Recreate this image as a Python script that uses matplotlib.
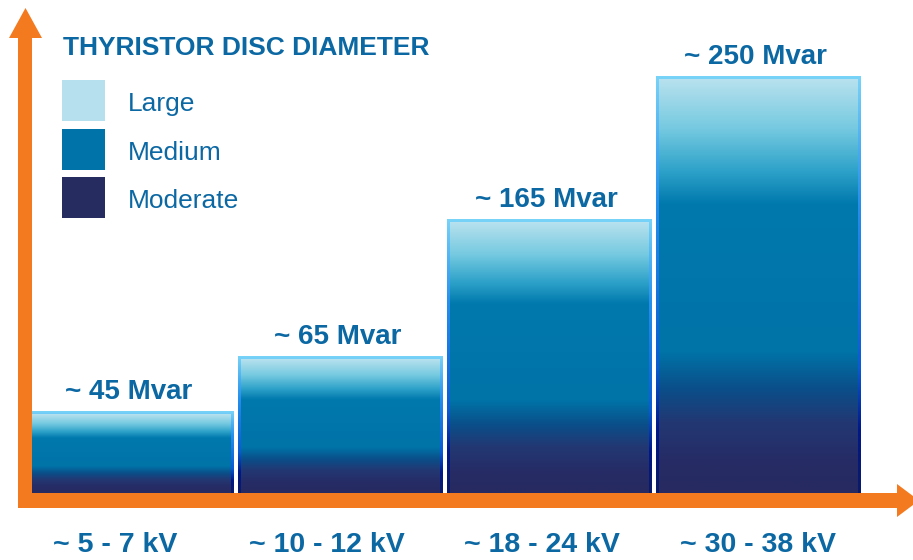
import numpy as np
import matplotlib
matplotlib.use("Agg")
import matplotlib.pyplot as plt
import matplotlib.patches as mpatches
from matplotlib.colors import LinearSegmentedColormap

# data
voltages = ["~ 5 - 7 kV", "~ 10 - 12 kV", "~ 18 - 24 kV", "~ 30 - 38 kV"]
mvar = [45, 65, 165, 250]
bar_heights = [49, 82, 164, 250]   # drawn heights (same scale as 250 Mvar)
legend_names = ["Large", "Medium", "Moderate"]
legend_colors = ["#b7e0ee", "#0074a8", "#262b60"]

txt_blue = "#0b68a3"
orange = "#f47a20"
label_shift = [-16, -13, -7, 0]   # px, x labels sit a bit left of bar centres

fill_cmap = LinearSegmentedColormap.from_list("fill", [
    (0.00, "#b7e1ee"), (0.12, "#74c9e0"), (0.22, "#2ea2c9"), (0.30, "#0079ad"),
    (0.66, "#0073a7"), (0.75, "#0b4e89"), (0.83, "#223873"), (0.92, "#262c66"),
    (1.00, "#262a60")])
edge_cmap = LinearSegmentedColormap.from_list("edge", [
    (0.00, "#78d3f8"), (0.30, "#2590ee"), (0.70, "#0a5ad6"), (0.85, "#00188a"),
    (1.00, "#0b1a68")])

fig = plt.figure(figsize=(9.13, 5.6), dpi=100)

# data axes: bar centre spacing ~208.8 px, 250 units ~ 417 px
ax = fig.add_axes([0, 0, 1, 1])
ax.set_axis_off()
xpx, ypx = 208.8, 1.668
xlim = (-131.5 / xpx, (913 - 131.5) / xpx)
ylim = (-67 / ypx, (560 - 67) / ypx)

width = 0.98
dx, dy = 3 / xpx, 3 / ypx
grad = np.linspace(0, 1, 256).reshape(-1, 1)
bars = ax.bar(range(len(bar_heights)), bar_heights, width=width, color="none", edgecolor="none")
for i, (b, h) in enumerate(zip(bars, bar_heights)):
    x0 = b.get_x()
    x1 = x0 + b.get_width()
    outer = mpatches.Rectangle((x0, 0), x1 - x0, h, transform=ax.transData)
    im = ax.imshow(grad, extent=[x0, x1, 0, h], aspect="auto", cmap=edge_cmap, zorder=2)
    im.set_clip_path(outer)
    inner = mpatches.Rectangle((x0 + dx, 0), x1 - x0 - 2 * dx, h - dy, transform=ax.transData)
    im2 = ax.imshow(grad, extent=[x0 + dx, x1 - dx, 0, h - dy], aspect="auto", cmap=fill_cmap, zorder=3)
    im2.set_clip_path(inner)
    ax.annotate(f"~ {mvar[i]} Mvar", (i, h), xytext=(-2, 9), textcoords="offset points",
                ha="center", va="baseline", fontsize=20, fontweight="bold",
                color=txt_blue, family="Liberation Sans")
    ax.text(i + label_shift[i] / xpx, -31, voltages[i], ha="center", va="center", fontsize=20.5,
            fontweight="bold", color=txt_blue, family="Liberation Sans")
ax.set_xlim(*xlim)
ax.set_ylim(*ylim)

# overlay in pixel coords for arrows, title and legend
ax0 = fig.add_axes([0, 0, 1, 1])
ax0.set_axis_off()
ax0.patch.set_alpha(0)
ax0.set_xlim(0, 913)
ax0.set_ylim(560, 0)

ax0.add_patch(mpatches.Polygon([(18, 505), (18, 38), (9, 38), (25.5, 8), (42, 38), (32, 38), (32, 505)],
                               closed=True, color=orange, lw=0))
ax0.add_patch(mpatches.Polygon([(18, 493), (897, 493), (897, 484), (919, 500.5), (897, 517), (897, 508), (18, 508)],
                               closed=True, color=orange, lw=0))

ax0.text(63, 48, "THYRISTOR DISC DIAMETER", ha="left", va="center", fontsize=19,
         fontweight="bold", color=txt_blue, family="Liberation Sans")
for k, (name, c) in enumerate(zip(legend_names, legend_colors)):
    top = 80 + k * 48.5
    ax0.add_patch(mpatches.Rectangle((62, top), 43, 41, color=c, lw=0))
    ax0.text(128, top + 24, name, ha="left", va="center", fontsize=19,
             color=txt_blue, family="Liberation Sans")

fig.savefig("out.png", dpi=100)
